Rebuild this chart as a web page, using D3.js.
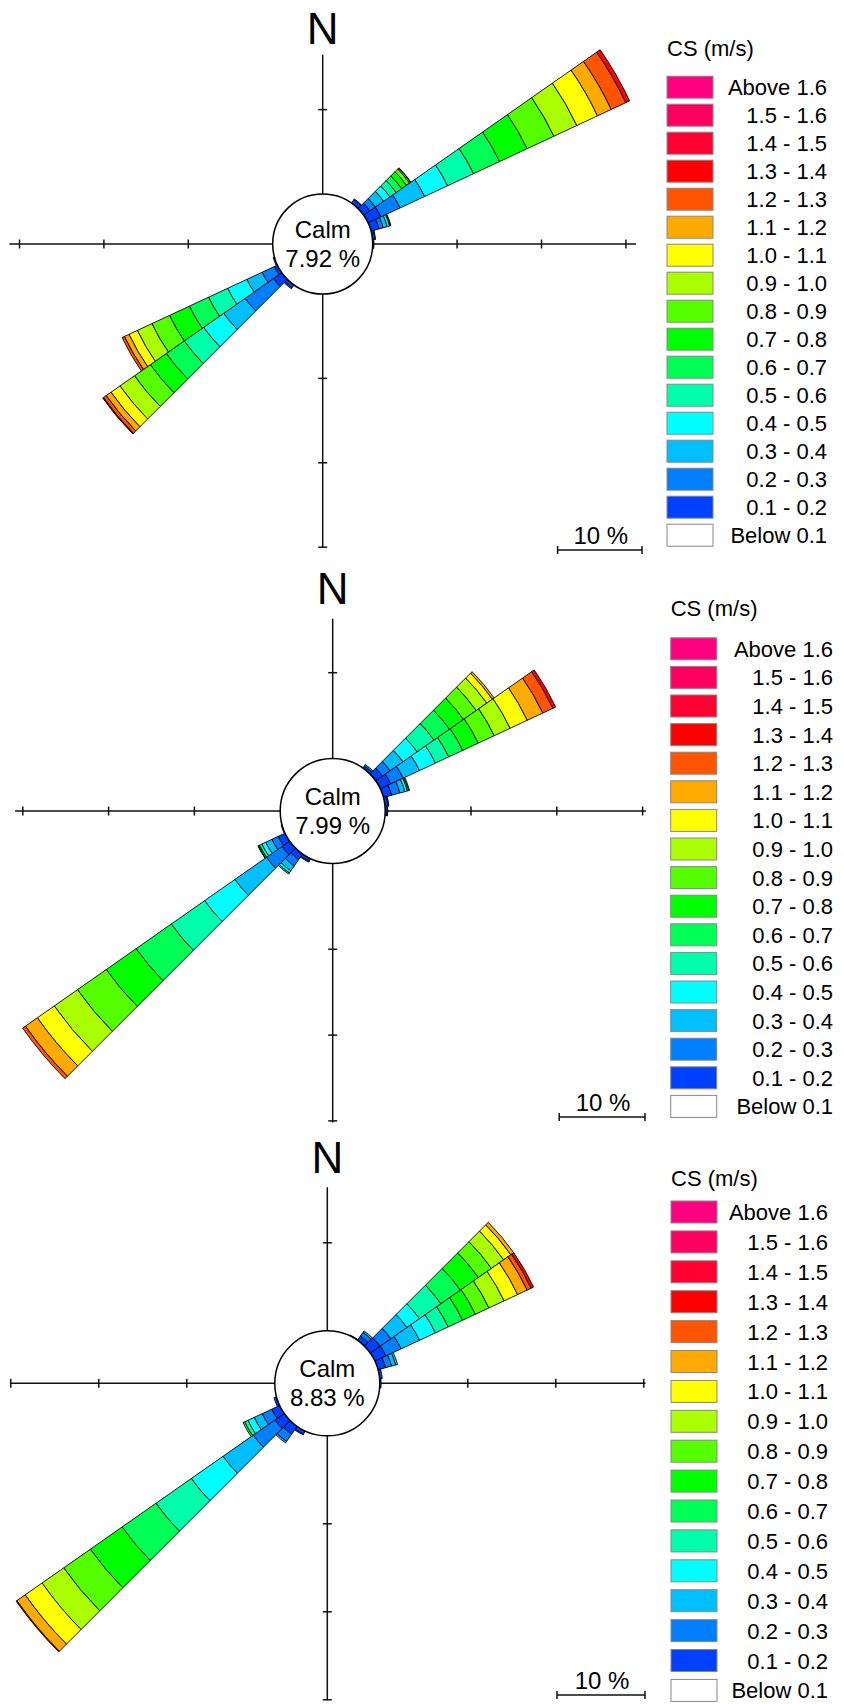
<!DOCTYPE html>
<html><head><meta charset="utf-8">
<script src="https://cdn.jsdelivr.net/npm/d3@7"></script>
<style>body{margin:0;background:#fff}svg{display:block}</style>
</head><body>
<svg id="chart" width="844" height="1704"></svg>
<script>
// ---------- data ----------
const speedBins = ["0.1 - 0.2","0.2 - 0.3","0.3 - 0.4","0.4 - 0.5","0.5 - 0.6","0.6 - 0.7","0.7 - 0.8","0.8 - 0.9","0.9 - 1.0","1.0 - 1.1","1.1 - 1.2","1.2 - 1.3","1.3 - 1.4","1.4 - 1.5","1.5 - 1.6","Above 1.6"];
const speedColors = ["#0040ff","#0080ff","#00bfff","#00ffff","#00ffaa","#00ff55","#00ff00","#55ff00","#aaff00","#ffff00","#ffaa00","#ff5500","#ff0000","#ff0030","#ff0060","#ff0080"];
const calmLabel = "Below 0.1";
const legendTitle = "CS (m/s)";
const calmPercent = [7.92, 7.99, 8.83];
const radialTicks = [10, 20, 30];
const sectorWidth = 10;

const rose1 = [
  {dir: 40,  freq: [0.5, 0.1]},
  {dir: 50,  freq: [0.9, 0.8, 1.2, 0.9, 0.9, 0.8, 0.7, 0.45, 0.15, 0.05]},
  {dir: 60,  freq: [1.7, 2.5, 3.2, 3.0, 3.4, 3.4, 3.6, 3.5, 3.0, 2.7, 1.8, 1.9, 0.5]},
  {dir: 70,  freq: [1.0, 0.5, 0.5, 0.3, 0.1, 0.05]},
  {dir: 80,  freq: [0.3, 0.05]},
  {dir: 90,  freq: [0.15]},
  {dir: 220, freq: [0.4, 0.15]},
  {dir: 230, freq: [1.2, 4.1, 3.1, 2.9, 2.8, 2.6, 2.3, 2.3, 2.1, 1.3, 0.7, 0.4, 0.1]},
  {dir: 240, freq: [0.4, 1.6, 2.0, 2.5, 2.5, 2.5, 2.6, 2.3, 1.9, 1.1, 0.6, 0.3]},
  {dir: 250, freq: [0.15]}
];
const rose2 = [
  {dir: 40,  freq: [0.3, 0.2]},
  {dir: 50,  freq: [0.97, 1.09, 1.82, 2.02, 2.4, 2.2, 2.0, 1.8, 1.5, 0.8, 0.25]},
  {dir: 60,  freq: [1.37, 1.58, 2.1, 2.05, 1.7, 1.8, 2.0, 2.05, 2.05, 2.2, 2.0, 1.3, 0.35]},
  {dir: 70,  freq: [1.0, 1.0, 0.6, 0.3, 0.15, 0.1]},
  {dir: 80,  freq: [0.35, 0.1]},
  {dir: 90,  freq: [0.25, 0.05]},
  {dir: 210, freq: [0.35, 0.1]},
  {dir: 220, freq: [0.8, 0.9, 0.7, 0.3, 0.15]},
  {dir: 230, freq: [1.1, 2.2, 4.5, 4.3, 4.75, 5.0, 4.25, 4.1, 3.3, 2.4, 1.7, 0.4]},
  {dir: 240, freq: [0.9, 0.8, 0.8, 0.5, 0.3, 0.15, 0.05]},
  {dir: 250, freq: [0.1]}
];
const rose3 = [
  {dir: 30,  freq: [0.1]},
  {dir: 40,  freq: [0.6, 0.5, 0.2]},
  {dir: 50,  freq: [1.36, 1.5, 2.23, 1.74, 2.97, 2.7, 2.5, 1.8, 1.7, 1.0, 0.4]},
  {dir: 60,  freq: [1.4, 1.9, 2.3, 2.0, 1.6, 1.8, 1.6, 1.7, 1.9, 1.7, 1.2, 0.5, 0.3]},
  {dir: 70,  freq: [0.9, 0.7, 0.5, 0.2]},
  {dir: 80,  freq: [0.3]},
  {dir: 90,  freq: [0.15]},
  {dir: 210, freq: [0.4, 0.1]},
  {dir: 220, freq: [1.1, 1.0, 0.2]},
  {dir: 230, freq: [1.3, 3.0, 4.2, 4.4, 4.9, 4.7, 4.4, 3.7, 3.0, 2.35, 1.15, 0.1]},
  {dir: 240, freq: [1.0, 1.2, 1.0, 0.8, 0.4, 0.2]},
  {dir: 250, freq: [0.3]}
];
const roses = [rose1, rose2, rose3];

// ---------- layout ----------
const layout = [
  {cx: 322.7, cy: 244,    calmR: 50,   unit: 84.4, ax: {top: 16.5, bottom: 30, left: 31.2, right: 31.2}, nBase: 44,
   bar: {right: 642, y: 550}, leg: {x: 667, titleY: 48, row0: 87.2, step: 28, right: 827}},
  {cx: 332.7, cy: 811,    calmR: 52.5, unit: 85.8, ax: {top: 16.3, bottom: 30.2, left: 30.9, right: 30.4}, nBase: 604,
   bar: {right: 645, y: 1117}, leg: {x: 670.7, titleY: 608, row0: 648.8, step: 28.6, right: 833}},
  {cx: 327.3, cy: 1383.3, calmR: 52.5, unit: 88,   ax: {top: 16.3, bottom: 30.05, left: 30.1, right: 30.2}, nBase: 1173,
   bar: {right: 645, y: 1695}, leg: {x: 671, titleY: 1178, row0: 1212, step: 29.9, right: 828}}
];
const FONT = "Arial, 'Liberation Sans', Helvetica, sans-serif";

const svg = d3.select("#chart");
svg.append("rect").attr("width", 844).attr("height", 1704).attr("fill", "#fff");

layout.forEach((L, i) => {
  const g = svg.append("g").attr("transform", `translate(${L.cx},${L.cy})`);
  const r = d3.scaleLinear().domain([0, 10]).range([L.calmR, L.calmR + L.unit]);

  // axes
  const axisG = g.append("g").attr("stroke", "#111").attr("stroke-width", 1.5);
  axisG.append("line").attr("x1", -r(L.ax.left)).attr("x2", r(L.ax.right)).attr("y1", 0).attr("y2", 0);
  axisG.append("line").attr("y1", -r(L.ax.top)).attr("y2", r(L.ax.bottom)).attr("x1", 0).attr("x2", 0);
  const tk = 4.5;
  radialTicks.forEach(t => {
    axisG.append("line").attr("x1", r(t)).attr("x2", r(t)).attr("y1", -tk).attr("y2", tk);
    axisG.append("line").attr("x1", -r(t)).attr("x2", -r(t)).attr("y1", -tk).attr("y2", tk);
    axisG.append("line").attr("y1", r(t)).attr("y2", r(t)).attr("x1", -tk).attr("x2", tk);
    if (t <= L.ax.top) axisG.append("line").attr("y1", -r(t)).attr("y2", -r(t)).attr("x1", -tk).attr("x2", tk);
  });

  // petals
  const arc = d3.arc();
  const segs = [];
  roses[i].forEach(p => {
    let cum = 0;
    p.freq.forEach((v, k) => {
      if (v > 0) segs.push({dir: p.dir, k, a: cum, b: cum + v});
      cum += v;
    });
  });
  g.append("g").selectAll("path").data(segs).join("path")
    .attr("d", s => arc({innerRadius: r(s.a), outerRadius: r(s.b),
      startAngle: (s.dir - sectorWidth / 2) * Math.PI / 180, endAngle: (s.dir + sectorWidth / 2) * Math.PI / 180}))
    .attr("fill", s => speedColors[s.k]).attr("stroke", "#000").attr("stroke-width", 0.9).attr("stroke-linejoin", "round");

  // calm circle
  g.append("circle").attr("r", r(0)).attr("fill", "#fff").attr("stroke", "#000").attr("stroke-width", 1.5);
  g.append("text").attr("x", 0).attr("y", -6).attr("text-anchor", "middle")
    .attr("font-family", FONT).attr("font-size", 24).text("Calm");
  g.append("text").attr("x", 0).attr("y", 23).attr("text-anchor", "middle")
    .attr("font-family", FONT).attr("font-size", 24).text(calmPercent[i].toFixed(2) + " %");

  // N
  svg.append("text").attr("x", L.cx).attr("y", L.nBase).attr("text-anchor", "middle")
    .attr("font-family", FONT).attr("font-size", 44).text("N");

  // scale bar
  const bx0 = L.bar.right - (r(10) - r(0)), bx1 = L.bar.right;
  const sb = svg.append("g").attr("stroke", "#111").attr("stroke-width", 1.5);
  sb.append("line").attr("x1", bx0).attr("x2", bx1).attr("y1", L.bar.y).attr("y2", L.bar.y);
  sb.append("line").attr("x1", bx0).attr("x2", bx0).attr("y1", L.bar.y - 4).attr("y2", L.bar.y + 4);
  sb.append("line").attr("x1", bx1).attr("x2", bx1).attr("y1", L.bar.y - 4).attr("y2", L.bar.y + 4);
  svg.append("text").attr("x", (bx0 + bx1) / 2 + 1).attr("y", L.bar.y - 6).attr("text-anchor", "middle")
    .attr("font-family", FONT).attr("font-size", 24).text("10 %");

  // legend
  const lg = svg.append("g");
  lg.append("text").attr("x", L.leg.x).attr("y", L.leg.titleY + 8)
    .attr("font-family", FONT).attr("font-size", 22).text(legendTitle);
  const rows = speedBins.map((b, k) => ({label: b, color: speedColors[k]})).reverse()
    .concat([{label: calmLabel, color: "#ffffff"}]);
  rows.forEach((row, k) => {
    const yc = L.leg.row0 + k * L.leg.step;
    lg.append("rect").attr("x", L.leg.x).attr("y", yc - 11).attr("width", 46).attr("height", 22)
      .attr("fill", row.color).attr("stroke", "#888").attr("stroke-width", 1);
    lg.append("text").attr("x", L.leg.right).attr("y", yc + 8).attr("text-anchor", "end")
      .attr("font-family", FONT).attr("font-size", 22).text(row.label);
  });
});
</script>
</body></html>
